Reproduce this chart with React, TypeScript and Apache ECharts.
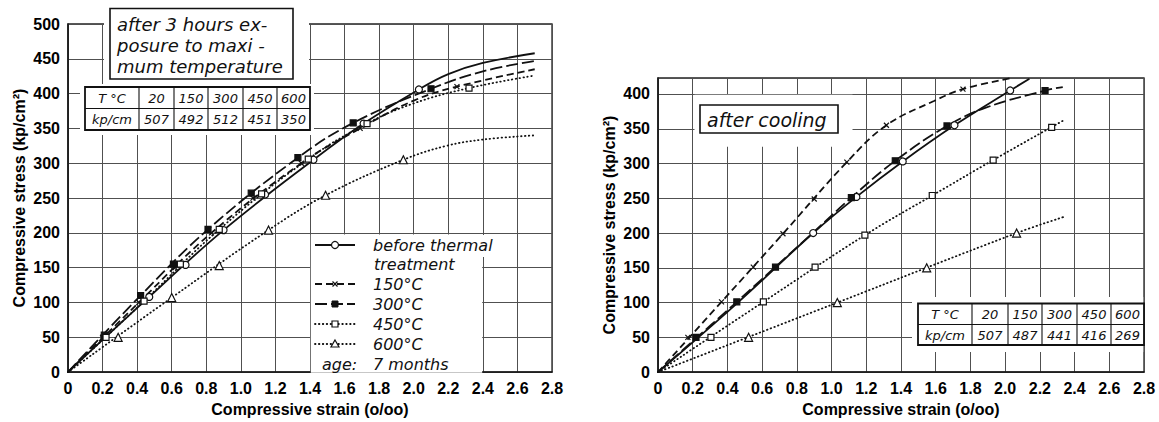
import { useEffect, useRef } from "react";
import * as echarts from "echarts";

// ---------- data (strain in o/oo, stress in kp/cm2) ----------
// Left: after 3 hours exposure to maximum temperature
const hot20Line = [[0, 0], [0.47, 108], [0.9, 204], [1.42, 305], [1.71, 357], [2.03, 406], [2.2, 428], [2.4, 444], [2.7, 458]];
const hot20Marks = [[0.47, 108], [0.68, 154], [0.9, 204], [1.14, 255], [1.42, 305], [1.71, 357], [2.03, 406]];
const hot150Line = [[0, 0], [0.41, 100], [0.83, 200], [1.35, 300], [1.69, 350], [2.0, 390], [2.25, 410], [2.7, 435]];
const hot150Marks = [[0.2, 50], [0.41, 100], [0.62, 150], [0.83, 200], [1.07, 250], [1.35, 300], [1.69, 350], [2.25, 410]];
const hot300Line = [[0, 0], [0.42, 110], [0.81, 205], [1.33, 308], [1.65, 358], [2.1, 407], [2.4, 432], [2.7, 447]];
const hot300Marks = [[0.21, 53], [0.42, 110], [0.61, 155], [0.81, 205], [1.06, 257], [1.33, 308], [1.65, 358], [2.1, 407]];
const hot450Line = [[0, 0], [0.44, 102], [0.875, 205], [1.39, 306], [1.73, 357], [2.0, 386], [2.32, 408], [2.7, 426]];
const hot450Marks = [[0.22, 50], [0.44, 102], [0.65, 155], [0.875, 205], [1.12, 256], [1.39, 306], [1.73, 357], [2.32, 408]];
const hot600Line = [[0, 0], [0.6, 107], [1.16, 204], [1.49, 254], [1.94, 305], [2.19, 325], [2.4, 334], [2.7, 340]];
const hot600Marks = [[0.29, 50], [0.6, 107], [0.875, 153], [1.16, 204], [1.49, 254], [1.94, 305]];

// Right: after cooling
const cool20Line = [[0, 0], [0.46, 100], [0.894, 200], [1.143, 252], [1.41, 303], [1.708, 355], [2.029, 405], [2.14, 422]];
const cool20Marks = [[0.894, 200], [1.143, 252], [1.41, 303], [1.708, 355], [2.029, 405]];
const cool150Line = [[0, 0], [0.366, 101], [0.72, 199], [1.088, 302], [1.316, 355], [1.59, 390], [1.757, 407], [2.04, 423]];
const cool150Marks = [[0.172, 50], [0.366, 101], [0.549, 151], [0.72, 199], [0.9, 249], [1.088, 302], [1.316, 355], [1.757, 407]];
const cool300Line = [[0, 0], [0.454, 101], [0.895, 201], [1.114, 251], [1.367, 304], [1.665, 354], [1.885, 380], [2.23, 405], [2.332, 410]];
const cool300Marks = [[0.219, 50], [0.454, 101], [0.677, 151], [1.114, 251], [1.367, 304], [1.665, 354], [2.23, 405]];
const cool450Line = [[0, 0], [0.607, 101], [1.192, 197], [1.58, 254], [1.931, 305], [2.336, 362]];
const cool450Marks = [[0.305, 50], [0.607, 101], [0.905, 151], [1.192, 197], [1.58, 254], [1.931, 305], [2.268, 352]];
const cool600Line = [[0, 0], [1.033, 100], [2.066, 200], [2.336, 223]];
const cool600Marks = [[0.522, 50], [1.033, 100], [1.548, 150], [2.066, 200]];

// tables
const tempRow = ["T °C", "20", "150", "300", "450", "600"];
const hotModulusRow = ["kp/cm", "507", "492", "512", "451", "350"];
const coolModulusRow = ["kp/cm", "507", "487", "441", "416", "269"];

// legend / annotation texts
const legendLabels = ["150°C", "300°C", "450°C", "600°C"];
const hotTitleLines = ["after 3 hours ex-", "posure to maxi -", "mum temperature"];
const coolTitle = "after cooling";
const xName = "Compressive strain (o/oo)";
const yName = "Compressive stress (kp/cm²)";

// ---------- styles ----------
const INK = "#111";
const DASH150: number[] = [7, 4];
const DASH300: number[] = [12, 4];
const DOT: number[] = [0.5, 3.4];
const CROSS = "path://M0,0L10,10M10,0L0,10";
const ANNOT = (s: number) => `italic ${s}px "DejaVu Sans"`;

const lineSeries = (data: number[][], gi: number, dash: any) => ({
  type: "line",
  xAxisIndex: gi,
  yAxisIndex: gi,
  data,
  symbol: "none",
  showSymbol: false,
  smooth: 0.4,
  silent: true,
  z: 3,
  lineStyle: { color: INK, width: 1.8, type: dash, cap: dash === DOT ? "round" : "butt" },
});

const markSeries = (data: number[][], gi: number, symbol: string, size: number, filled: boolean) => ({
  type: "scatter",
  xAxisIndex: gi,
  yAxisIndex: gi,
  data,
  symbol,
  symbolSize: size,
  silent: true,
  z: 5,
  itemStyle: { color: filled ? INK : "#fff", borderColor: INK, borderWidth: 1.2, opacity: 1 },
});

const labelStyle = {
  color: "#000",
  fontFamily: '"Liberation Sans", Arial, sans-serif',
  fontWeight: "bold",
  fontSize: 16,
};

const makeX = (gi: number) => ({
  gridIndex: gi,
  type: "value",
  min: 0,
  max: 2.8,
  interval: 0.2,
  axisLine: { show: true, onZero: false, lineStyle: { color: INK, width: 1.5 } },
  axisTick: { show: false },
  splitLine: { show: true, lineStyle: { color: "#505050", width: 1 } },
  axisLabel: { ...labelStyle, margin: 8, formatter: (v: number) => (v === 0 ? "0" : v.toFixed(1)) },
  name: xName,
  nameLocation: "middle",
  nameGap: 23,
  nameTextStyle: { ...labelStyle },
});

const makeY = (gi: number, max: number) => ({
  gridIndex: gi,
  type: "value",
  min: 0,
  max,
  interval: 50,
  axisLine: { show: true, onZero: false, lineStyle: { color: INK, width: 1.5 } },
  axisTick: { show: false },
  splitLine: { show: true, lineStyle: { color: "#505050", width: 1 } },
  axisLabel: { ...labelStyle, margin: 8, formatter: (v: number) => (v % 50 === 0 ? String(v) : "") },
  name: yName,
  nameLocation: "middle",
  nameGap: 41,
  nameTextStyle: { ...labelStyle },
});

// ---------- graphic helpers ----------
const txt = (text: string, x: number, y: number, size: number, align = "left") => ({
  type: "text",
  x,
  y,
  z: 12,
  silent: true,
  style: { text, fill: INK, font: ANNOT(size), align, verticalAlign: "middle" },
});
const mask = (x: number, y: number, w: number, h: number) => ({
  type: "rect",
  z: 10,
  silent: true,
  shape: { x, y, width: w, height: h },
  style: { fill: "#fff", lineWidth: 0 },
});
const box = (x: number, y: number, w: number, h: number, lw = 1.6) => ({
  type: "rect",
  z: 11,
  silent: true,
  shape: { x, y, width: w, height: h },
  style: { fill: "#fff", stroke: INK, lineWidth: lw },
});
const seg = (x1: number, y1: number, x2: number, y2: number, lw = 1.1, dash?: number[]) => ({
  type: "line",
  z: 12,
  silent: true,
  shape: { x1, y1, x2, y2 },
  style: { stroke: INK, lineWidth: lw, lineDash: dash || null, lineCap: dash === DOT ? "round" : "butt" },
});

const table = (cols: number[], rows: number[], data: string[][]) => {
  const els: any[] = [];
  els.push(box(cols[0], rows[0], cols[cols.length - 1] - cols[0], rows[rows.length - 1] - rows[0], 1.8));
  for (let i = 1; i < rows.length - 1; i++) els.push(seg(cols[0], rows[i], cols[cols.length - 1], rows[i], 1.1));
  for (let j = 1; j < cols.length - 1; j++) els.push(seg(cols[j], rows[0], cols[j], rows[rows.length - 1], 1.1));
  data.forEach((row, i) =>
    row.forEach((cell, j) => {
      els.push(txt(cell, (cols[j] + cols[j + 1]) / 2, (rows[i] + rows[i + 1]) / 2 + 0.5, 13, "center"));
    })
  );
  return els;
};

const legendRow = (y: number, dash: number[] | undefined, marker: string) => {
  const els: any[] = [seg(315, y, 355, y, 1.8, dash)];
  const cx = 335;
  if (marker === "circle")
    els.push({ type: "circle", z: 13, shape: { cx, cy: y, r: 3.5 }, style: { fill: "#fff", stroke: INK, lineWidth: 1.2 } });
  if (marker === "cross") {
    els.push({ ...seg(cx - 2.5, y - 2.5, cx + 2.5, y + 2.5, 1.2), z: 13 });
    els.push({ ...seg(cx - 2.5, y + 2.5, cx + 2.5, y - 2.5, 1.2), z: 13 });
  }
  if (marker === "fsq")
    els.push({ type: "rect", z: 13, shape: { x: cx - 3, y: y - 3, width: 6, height: 6 }, style: { fill: INK, stroke: INK, lineWidth: 1 } });
  if (marker === "osq")
    els.push({ type: "rect", z: 13, shape: { x: cx - 3, y: y - 3, width: 6, height: 6 }, style: { fill: "#fff", stroke: INK, lineWidth: 1.2 } });
  if (marker === "tri")
    els.push({
      type: "polygon",
      z: 13,
      shape: { points: [[cx, y - 4], [cx + 4, y + 3], [cx - 4, y + 3]] },
      style: { fill: "#fff", stroke: INK, lineWidth: 1.2 },
    });
  return els;
};

export default function App() {
  const ref = useRef<HTMLDivElement>(null);

  useEffect(() => {
    if (!ref.current) return;
    const chart = echarts.init(ref.current, undefined, { renderer: "svg" });

    const graphics: any[] = [
      // left chart: title box + table
      mask(104, 2, 205, 83),
      mask(80, 84, 234, 51),
      box(110, 8.5, 183, 70.5, 1.6),
      txt(hotTitleLines[0], 117, 24, 18),
      txt(hotTitleLines[1], 117, 45, 18),
      txt(hotTitleLines[2], 117, 66, 18),
      ...table([85, 139, 174, 208, 243, 277, 310], [87, 108.5, 130], [tempRow, hotModulusRow]),
      // left chart legend
      mask(310.8, 234.4, 171.4, 138.4),
      mask(481, 235, 18, 22),
      ...legendRow(245, undefined, "circle"),
      txt("before thermal", 373, 245, 16),
      txt("treatment", 374, 264, 16),
      ...legendRow(284, DASH150, "cross"),
      txt(legendLabels[0], 373, 284, 16),
      ...legendRow(304, DASH300, "fsq"),
      txt(legendLabels[1], 373, 304, 16),
      ...legendRow(324, DOT, "osq"),
      txt(legendLabels[2], 373, 324, 16),
      ...legendRow(344, DOT, "tri"),
      txt(legendLabels[3], 373, 344, 16),
      txt("age:", 322, 364, 16),
      txt("7 months", 373, 364, 16),
      // right chart: title box + table
      mask(694.5, 94.8, 158, 52),
      box(700, 105, 138, 28, 1.6),
      txt(coolTitle, 707, 119.5, 19),
      mask(912, 297, 231.2, 55),
      ...table([918, 972, 1008, 1042, 1077, 1111, 1144], [303.5, 324.5, 345], [tempRow, coolModulusRow]),
    ];

    chart.setOption({
      animation: false,
      backgroundColor: "#fff",
      grid: [
        { left: 68, top: 24, width: 484, height: 349.5, show: true, borderColor: "#222", borderWidth: 1.3, backgroundColor: "transparent" },
        { left: 658, top: 78, width: 486, height: 295.5, show: true, borderColor: "#222", borderWidth: 1.3, backgroundColor: "transparent" },
      ],
      xAxis: [makeX(0), makeX(1)],
      yAxis: [makeY(0, 500), makeY(1, 423)],
      series: [
        lineSeries(hot20Line, 0, "solid"),
        lineSeries(hot150Line, 0, DASH150),
        lineSeries(hot300Line, 0, DASH300),
        lineSeries(hot450Line, 0, DOT),
        lineSeries(hot600Line, 0, DOT),
        lineSeries(cool20Line, 1, "solid"),
        lineSeries(cool150Line, 1, DASH150),
        lineSeries(cool300Line, 1, DASH300),
        lineSeries(cool450Line, 1, DOT),
        lineSeries(cool600Line, 1, DOT),
        markSeries(hot20Marks, 0, "circle", 7, false),
        markSeries(hot150Marks, 0, CROSS, 5, false),
        markSeries(hot300Marks, 0, "rect", 6, true),
        markSeries(hot450Marks, 0, "rect", 6, false),
        markSeries(hot600Marks, 0, "triangle", 8, false),
        markSeries(cool20Marks, 1, "circle", 7, false),
        markSeries(cool150Marks, 1, CROSS, 5, false),
        markSeries(cool300Marks, 1, "rect", 6, true),
        markSeries(cool450Marks, 1, "rect", 6, false),
        markSeries(cool600Marks, 1, "triangle", 8, false),
      ],
      graphic: graphics,
    });

    return () => chart.dispose();
  }, []);

  return (
    <div
      ref={ref}
      style={{ position: "absolute", left: 0, top: 0, width: 1159, height: 422, background: "#fff" }}
    />
  );
}
